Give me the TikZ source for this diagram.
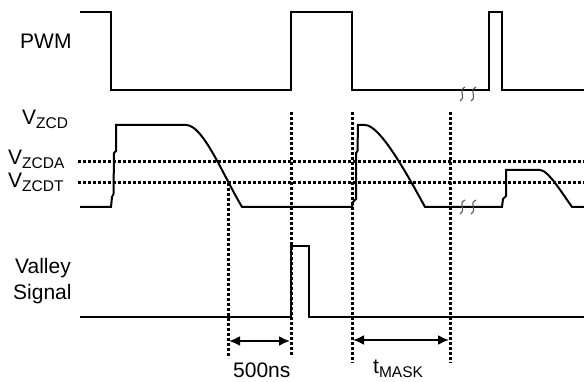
\documentclass[tikz,border=0pt]{standalone}
\usepackage{fontspec}
\setmainfont{Liberation Sans}
\usetikzlibrary{calc,arrows.meta}
\tikzstyle{signal} = [line width=2pt, line join=miter]
\tikzstyle{repere} = [line width=3pt, dash pattern=on 3pt off 2pt]
\tikzstyle{coupure} = [line width=1.1pt, draw=black!65]
\tikzstyle{etiquette} = [inner sep=0pt, anchor=base west, font=\fontsize{21}{25}\selectfont]
\tikzstyle{cote} = [line width=2pt, {Latex[length=11pt,width=10pt]}-{Latex[length=11pt,width=10pt]}]
\newcommand{\indice}[1]{\raisebox{-4pt}{\fontsize{15.5}{16}\selectfont #1}}

\begin{document}
\begin{tikzpicture}[x=1pt,y=-1pt]

        \useasboundingbox (0,0) rectangle (584,382);

        % libelles
        \node (pwm) [etiquette] at (20,49) {PWM};
        \node (vzcd) [etiquette] at (22,125) {V\indice{ZCD}};
        \node (vzcda) [etiquette] at (8,165) {V\indice{ZCDA}};
        \node (vzcdt) [etiquette] at (8,188) {V\indice{ZCDT}};
        \node (valley) [etiquette] at (15,274) {Valley};
        \node (signal) [etiquette] at (13,299) {Signal};

        % seuils
        \draw[repere] (78,162) -- (584,162);
        \draw[repere] (78,183) -- (584,183);

        % reperes verticaux
        \draw[repere] (228,183) -- (228,358);
        \draw[repere] (291,112) -- (291,357);
        \draw[repere] (352,112) -- (352,363);
        \draw[repere] (450,112) -- (450,363);

        % PWM
        \draw[signal] (80,12) -- (111,12) -- (111,90) -- (291,90) -- (291,12) -- (352,12) -- (352,90)
            -- (489,90) -- (489,12) -- (502,12) -- (502,90) -- (584,90);

        % VZCD
        \draw[signal] (80,207) -- (111,207) -- (112,197) -- (113.5,194) -- (114,153) -- (116,151) -- (116,125)
            -- (186,125) .. controls (203,125) and (222,173) .. (242,207)
            -- (352,207) -- (353,202) -- (356,199) -- (356,153) -- (357.5,151) -- (358,125)
            -- (365,125) .. controls (380,125) and (407,174) .. (425,207)
            -- (502,207) -- (503,199) -- (506,196) -- (506,170)
            -- (540,170) .. controls (548,170) and (562,193) .. (572,207) -- (584,207);

        % Valley Signal
        \draw[signal] (80,317) -- (291,317) -- (291,246) -- (309,246) -- (309,317) -- (584,317);

        % coupures
        \foreach \ys in {87,200} {
            \foreach \xs in {460,471} {
                \draw[coupure] (\xs+5,\ys) .. controls (\xs-3,\ys+4) and (\xs+7,\ys+9) .. (\xs,\ys+14);
            }
        }

        % durees
        \coordinate (a1) at (229,341);
        \coordinate (b1) at (290,341);
        \coordinate (a2) at (353,340);
        \coordinate (b2) at (449,340);
        \draw[cote] (a1) -- (b1);
        \draw[cote] (a2) -- (b2);
        \node (attente) [etiquette] at (233,377) {500ns};
        \node (masque) [etiquette] at (373,373) {t\indice{MASK}};

    \end{tikzpicture}
\end{document}
